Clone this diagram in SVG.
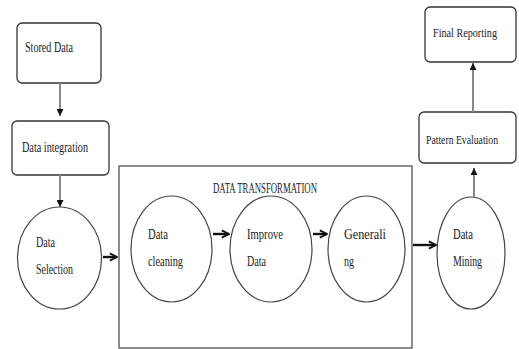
<svg xmlns="http://www.w3.org/2000/svg" width="519" height="349" viewBox="0 0 519 349">
<style>
.box{fill:#fff;stroke:#333;stroke-width:1.3}
.ell{fill:#fff;stroke:#444;stroke-width:1.2}
.frame{fill:#fff;stroke:#444;stroke-width:1.2}
.t{font-family:"Liberation Serif",serif;font-size:14px;fill:#222}
.s{font-size:12.5px}
.v{stroke:#888;stroke-width:2;fill:none}
.h{stroke:#111;stroke-width:2.4;fill:none}
</style>
<defs>
<marker id="tri" viewBox="0 0 10 10" refX="10" refY="5" markerWidth="11" markerHeight="7" markerUnits="userSpaceOnUse" orient="auto">
<path d="M0,0 L10,5 L0,10 Z" fill="#111"/>
</marker>
<marker id="chev" viewBox="0 0 10 10" refX="9" refY="5" markerWidth="9" markerHeight="11" markerUnits="userSpaceOnUse" orient="auto">
<path d="M1,1 L9,5 L1,9" fill="none" stroke="#111" stroke-width="2"/>
</marker>
</defs>
<rect x="0" y="0" width="519" height="349" fill="#fff"/>
<g id="frame">
<rect class="frame" x="119" y="166" width="293" height="182"/>
<text class="t" x="213" y="193" textLength="104" lengthAdjust="spacingAndGlyphs">DATA TRANSFORMATION</text>
</g>
<g id="stored">
<rect class="box" x="17" y="23" width="84" height="60" rx="5"/>
<text class="t" x="25" y="52" textLength="48" lengthAdjust="spacingAndGlyphs">Stored Data</text>
</g>
<g id="integration">
<rect class="box" x="12" y="121" width="97" height="54" rx="5"/>
<text class="t" x="22" y="152" textLength="66" lengthAdjust="spacingAndGlyphs">Data integration</text>
</g>
<g id="selection">
<ellipse class="ell" cx="59.5" cy="258" rx="42" ry="51"/>
<text class="t" x="36" y="247" textLength="19" lengthAdjust="spacingAndGlyphs">Data</text>
<text class="t" x="36" y="274" textLength="37" lengthAdjust="spacingAndGlyphs">Selection</text>
</g>
<g id="cleaning">
<ellipse class="ell" cx="171.5" cy="249" rx="40.5" ry="53"/>
<text class="t" x="148" y="239" textLength="20" lengthAdjust="spacingAndGlyphs">Data</text>
<text class="t" x="148" y="266" textLength="35" lengthAdjust="spacingAndGlyphs">cleaning</text>
</g>
<g id="improve">
<ellipse class="ell" cx="271" cy="249" rx="41" ry="53"/>
<text class="t" x="247" y="239" textLength="36" lengthAdjust="spacingAndGlyphs">Improve</text>
<text class="t" x="247" y="266" textLength="19" lengthAdjust="spacingAndGlyphs">Data</text>
</g>
<g id="generalizing">
<ellipse class="ell" cx="366.5" cy="249" rx="38.5" ry="53"/>
<text class="t" x="344" y="239" textLength="42" lengthAdjust="spacingAndGlyphs">Generali</text>
<text class="t" x="344" y="266" textLength="10" lengthAdjust="spacingAndGlyphs">ng</text>
</g>
<g id="mining">
<ellipse class="ell" cx="471" cy="253" rx="34" ry="56"/>
<text class="t" x="453" y="239" textLength="20" lengthAdjust="spacingAndGlyphs">Data</text>
<text class="t" x="453" y="266" textLength="29" lengthAdjust="spacingAndGlyphs">Mining</text>
</g>
<g id="pattern">
<rect class="box" x="419" y="112" width="97" height="51" rx="5"/>
<text class="t s" x="426" y="144" textLength="72" lengthAdjust="spacingAndGlyphs">Pattern Evaluation</text>
</g>
<g id="final">
<rect class="box" x="425" y="7" width="91" height="55" rx="5"/>
<text class="t s" x="433" y="37" textLength="64" lengthAdjust="spacingAndGlyphs">Final Reporting</text>
</g>
<g id="connectors">
<line class="v" x1="60" y1="83" x2="60" y2="116" marker-end="url(#tri)"/>
<line class="v" x1="60" y1="175" x2="60" y2="207" marker-end="url(#tri)"/>
<line class="v" x1="474" y1="197" x2="474" y2="168" marker-end="url(#tri)"/>
<line class="v" x1="473" y1="112" x2="473" y2="63" marker-end="url(#tri)"/>
<line class="h" x1="103" y1="257" x2="117" y2="257" marker-end="url(#chev)"/>
<line class="h" x1="213" y1="234" x2="229" y2="234" marker-end="url(#chev)"/>
<line class="h" x1="313" y1="234" x2="327" y2="234" marker-end="url(#chev)"/>
<line class="h" x1="413" y1="245" x2="436" y2="245" marker-end="url(#chev)"/>
</g>
</svg>
